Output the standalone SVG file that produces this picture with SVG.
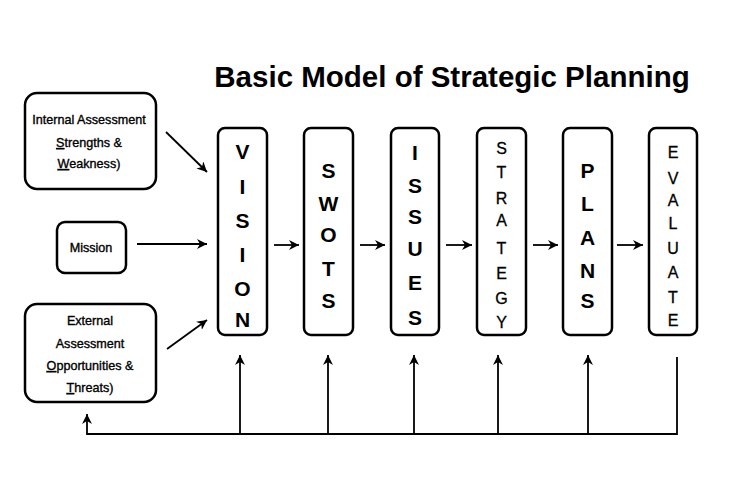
<svg xmlns="http://www.w3.org/2000/svg" width="733" height="504" viewBox="0 0 733 504">
<defs>
<marker id="ah" viewBox="0 0 10 10" refX="10" refY="5" markerWidth="10" markerHeight="10" markerUnits="userSpaceOnUse" orient="auto">
<path d="M0,0 L10,5 L0,10 L3,5 Z" fill="#000"/>
</marker>
<style>
.box{fill:#fff;stroke:#000;stroke-width:2.5}
.small{font-family:"Liberation Sans",Arial,sans-serif;font-size:12.6px;fill:#000;stroke:#000;stroke-width:0.35;text-anchor:middle}
.big{font-family:"Liberation Sans",Arial,sans-serif;font-size:21px;font-weight:bold;fill:#000;text-anchor:middle}
.thin{font-family:"Liberation Sans",Arial,sans-serif;font-size:16px;fill:#000;stroke:#000;stroke-width:0.3;text-anchor:middle}
.con{fill:none;stroke:#000;stroke-width:1.8}
.u{text-decoration:underline}
</style>
</defs>
<rect width="733" height="504" fill="#fff"/>
<text x="452" y="87" font-family="Liberation Sans,Arial,sans-serif" font-size="29.5" font-weight="bold" text-anchor="middle" fill="#000">Basic Model of Strategic Planning</text>

<g id="internal">
<rect class="box" x="25" y="93" width="131" height="96" rx="12"/>
<text class="small" x="89" y="124">Internal Assessment</text>
<text class="small" x="89" y="147"><tspan class="u">S</tspan>trengths &amp;</text>
<text class="small" x="89" y="168"><tspan class="u">W</tspan>eakness)</text>
</g>
<g id="mission">
<rect class="box" x="57" y="222" width="69" height="51" rx="8"/>
<text class="small" x="91" y="252">Mission</text>
</g>
<g id="external">
<rect class="box" x="25" y="304" width="131" height="98" rx="12"/>
<text class="small" x="90" y="325">External</text>
<text class="small" x="90" y="348">Assessment</text>
<text class="small" x="90" y="370"><tspan class="u">O</tspan>pportunities &amp;</text>
<text class="small" x="90" y="392"><tspan class="u">T</tspan>hreats)</text>
</g>

<g id="vision">
<rect class="box" x="218" y="128" width="49" height="207" rx="7"/>
<text class="big" x="242.5" y="159">V</text>
<text class="big" x="242.5" y="194">I</text>
<text class="big" x="242.5" y="228">S</text>
<text class="big" x="242.5" y="262">I</text>
<text class="big" x="242.5" y="296">O</text>
<text class="big" x="242.5" y="327">N</text>
</g>
<g id="swots">
<rect class="box" x="304" y="128" width="49" height="207" rx="7"/>
<text class="big" x="328.5" y="178">S</text>
<text class="big" x="328.5" y="211">W</text>
<text class="big" x="328.5" y="242">O</text>
<text class="big" x="328.5" y="276">T</text>
<text class="big" x="328.5" y="308">S</text>
</g>
<g id="issues">
<rect class="box" x="391" y="128" width="48" height="207" rx="7"/>
<text class="big" x="415" y="160">I</text>
<text class="big" x="415" y="193">S</text>
<text class="big" x="415" y="224">S</text>
<text class="big" x="415" y="256">U</text>
<text class="big" x="415" y="290">E</text>
<text class="big" x="415" y="325">S</text>
</g>
<g id="strategy">
<rect class="box" x="477" y="128" width="49" height="207" rx="7"/>
<text class="thin" x="501.5" y="154">S</text>
<text class="thin" x="501.5" y="178">T</text>
<text class="thin" x="501.5" y="204">R</text>
<text class="thin" x="501.5" y="226">A</text>
<text class="thin" x="501.5" y="254">T</text>
<text class="thin" x="501.5" y="279">E</text>
<text class="thin" x="501.5" y="304">G</text>
<text class="thin" x="501.5" y="328">Y</text>
</g>
<g id="plans">
<rect class="box" x="563" y="128" width="49" height="207" rx="7"/>
<text class="big" x="587.5" y="178">P</text>
<text class="big" x="587.5" y="211">L</text>
<text class="big" x="587.5" y="245">A</text>
<text class="big" x="587.5" y="278">N</text>
<text class="big" x="587.5" y="308">S</text>
</g>
<g id="evaluate">
<rect class="box" x="649" y="128" width="48" height="207" rx="7"/>
<text class="thin" x="673" y="158">E</text>
<text class="thin" x="673" y="184">V</text>
<text class="thin" x="673" y="206">A</text>
<text class="thin" x="673" y="229">L</text>
<text class="thin" x="673" y="254">U</text>
<text class="thin" x="673" y="278">A</text>
<text class="thin" x="673" y="303">T</text>
<text class="thin" x="673" y="326">E</text>
</g>

<g id="connectors">
<line class="con" x1="166" y1="132" x2="207" y2="172" marker-end="url(#ah)"/>
<line class="con" x1="137" y1="244" x2="207" y2="244" marker-end="url(#ah)"/>
<line class="con" x1="167" y1="349" x2="207" y2="320" marker-end="url(#ah)"/>
<line class="con" x1="274" y1="245" x2="299" y2="245" marker-end="url(#ah)"/>
<line class="con" x1="360" y1="245" x2="385" y2="245" marker-end="url(#ah)"/>
<line class="con" x1="446" y1="245" x2="472" y2="245" marker-end="url(#ah)"/>
<line class="con" x1="533" y1="245" x2="558" y2="245" marker-end="url(#ah)"/>
<line class="con" x1="617" y1="245" x2="643" y2="245" marker-end="url(#ah)"/>
<polyline class="con" points="677,357 677,434 87,434 87,414" marker-end="url(#ah)"/>
<line class="con" x1="240" y1="434" x2="240" y2="355" marker-end="url(#ah)"/>
<line class="con" x1="328" y1="434" x2="328" y2="355" marker-end="url(#ah)"/>
<line class="con" x1="414" y1="434" x2="414" y2="355" marker-end="url(#ah)"/>
<line class="con" x1="498" y1="434" x2="498" y2="355" marker-end="url(#ah)"/>
<line class="con" x1="588" y1="434" x2="588" y2="355" marker-end="url(#ah)"/>
</g>
</svg>
